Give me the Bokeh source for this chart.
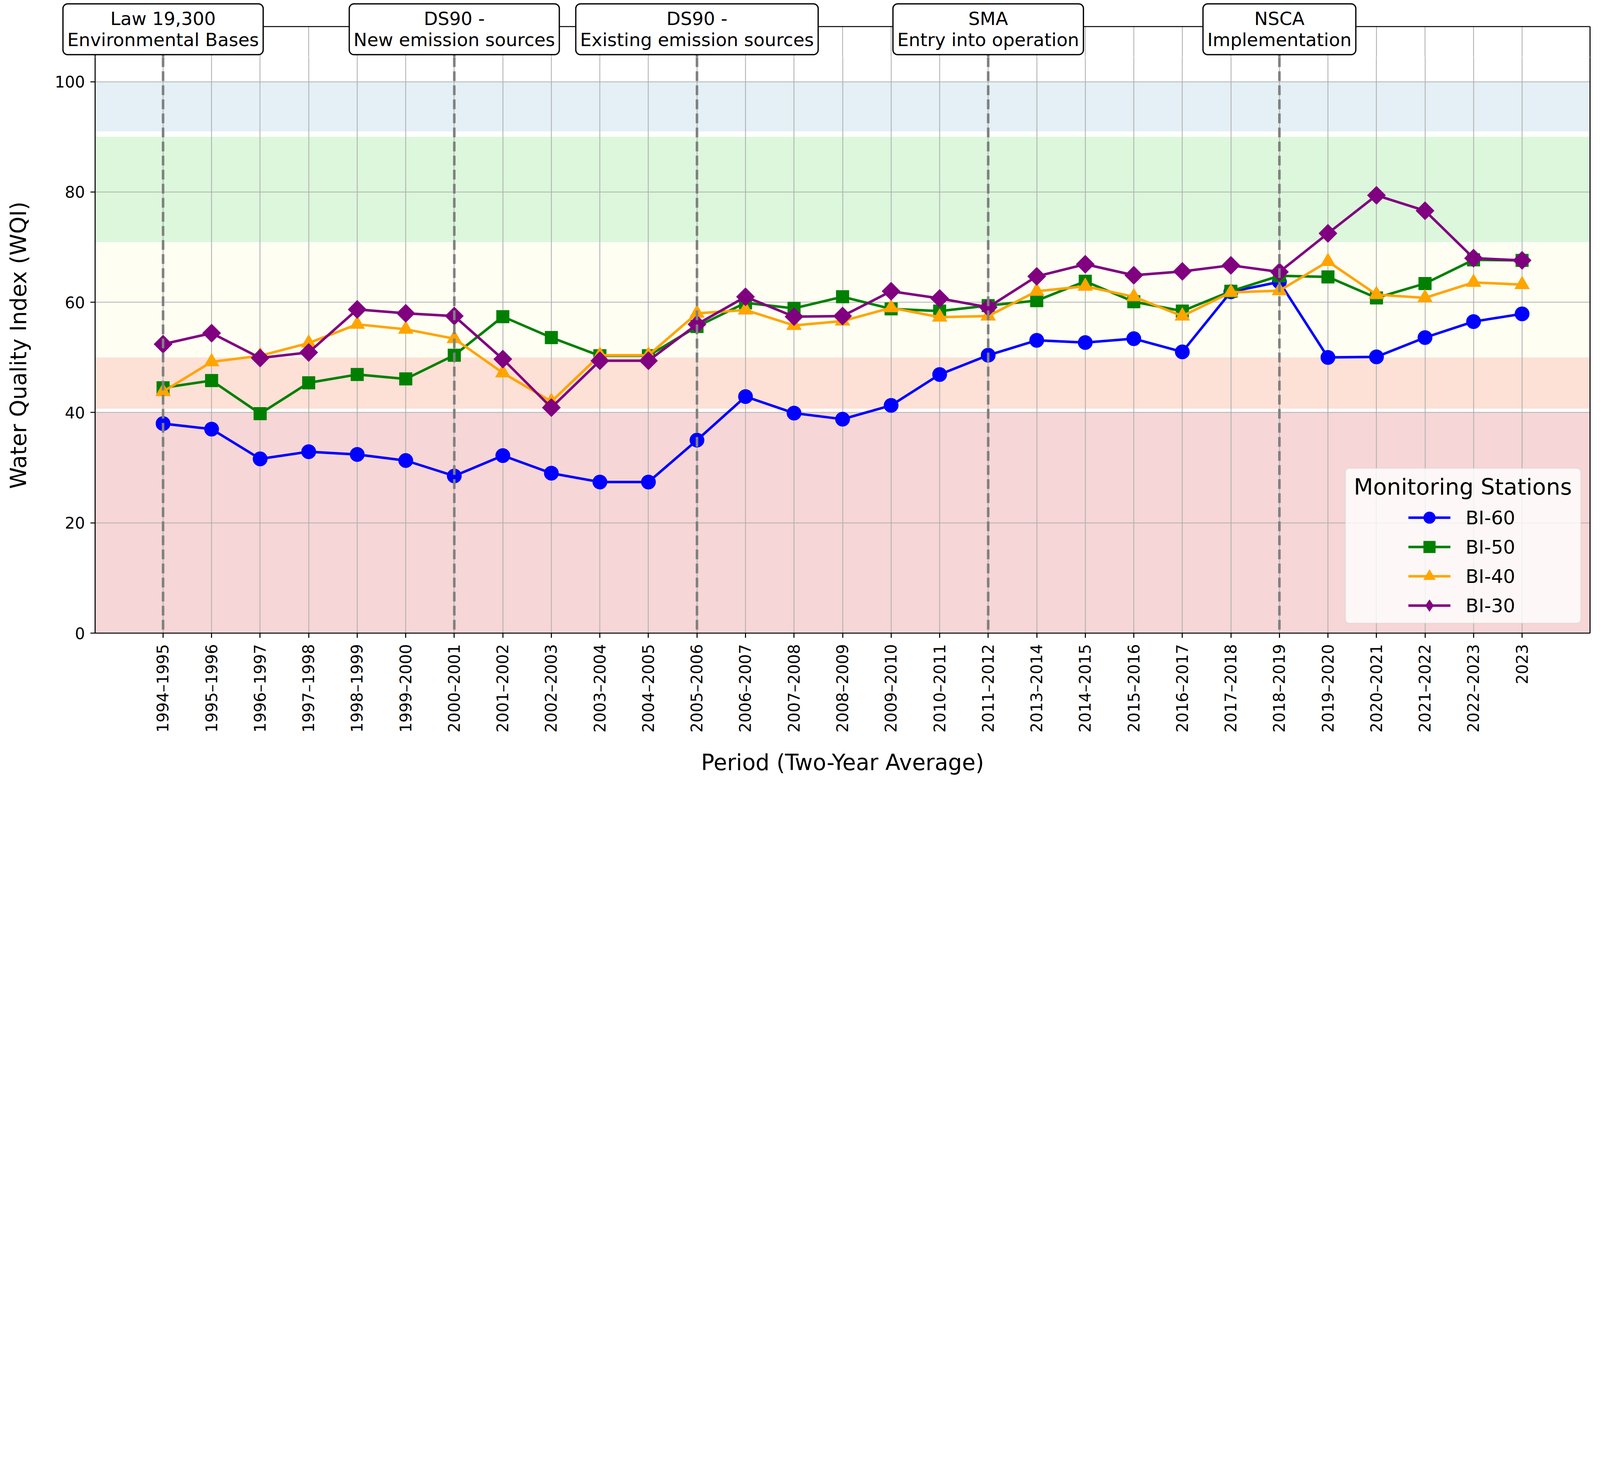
import math
from bokeh.plotting import figure
from bokeh.layouts import column
from bokeh.models import (Range1d, FixedTicker, BoxAnnotation, Span, Label,
                          Legend, LegendItem, LinearAxis)
from bokeh.embed import file_html
from bokeh.resources import INLINE

# ---------------- data ----------------
periods = ["1994–1995", "1995–1996", "1996–1997", "1997–1998", "1998–1999",
           "1999–2000", "2000–2001", "2001–2002", "2002–2003", "2003–2004",
           "2004–2005", "2005–2006", "2006–2007", "2007–2008", "2008–2009",
           "2009–2010", "2010–2011", "2011–2012", "2013–2014", "2014–2015",
           "2015–2016", "2016–2017", "2017–2018", "2018–2019", "2019–2020",
           "2020–2021", "2021–2022", "2022–2023", "2023"]

bi60 = [38.0, 37.0, 31.6, 32.9, 32.4, 31.3, 28.5, 32.2, 29.0, 27.4, 27.4, 35.0,
        42.9, 39.9, 38.8, 41.3, 46.9, 50.4, 53.1, 52.7, 53.4, 51.0, 61.9, 63.7,
        50.0, 50.1, 53.6, 56.5, 57.9]
bi50 = [44.5, 45.8, 39.8, 45.4, 46.9, 46.1, 50.4, 57.4, 53.6, 50.3, 50.3, 55.6,
        59.9, 58.9, 61.0, 58.8, 58.4, 59.4, 60.3, 63.8, 60.1, 58.4, 62.0, 64.8,
        64.6, 60.8, 63.4, 67.7, 67.6]
bi40 = [43.8, 49.2, 50.3, 52.6, 56.0, 55.1, 53.4, 47.2, 42.0, 50.4, 50.4, 58.0,
        58.6, 55.8, 56.6, 59.0, 57.3, 57.5, 62.0, 62.9, 61.0, 57.5, 61.8, 62.1,
        67.4, 61.4, 60.8, 63.6, 63.2]
bi30 = [52.4, 54.4, 49.9, 50.9, 58.7, 58.0, 57.5, 49.7, 40.9, 49.4, 49.4, 56.0,
        61.0, 57.4, 57.5, 62.0, 60.7, 59.1, 64.7, 66.9, 64.9, 65.6, 66.7, 65.5,
        72.5, 79.4, 76.6, 68.0, 67.6]

station_names = ["BI-60", "BI-50", "BI-40", "BI-30"]

# quality bands (bottom, top)
band_bottoms = [0, 40.7, 50, 70.9, 91]
band_tops = [40, 50, 70.6, 90, 100]

# regulatory milestones
event_index = [0, 6, 11, 17, 23]
event_text = ["Law 19,300\nEnvironmental Bases",
              "DS90 -\nNew emission sources",
              "DS90 -\nExisting emission sources",
              "SMA\nEntry into operation",
              "NSCA\nImplementation"]

# ---------------- layout / styling ----------------
S = 4096 / 7583            # page px per reference px
M = 0                      # page offset of the layout (Bokeh template has no body margin)


def px(v):
    return v * S


def ipx(v):
    return int(round(v * S))


FONT = "DejaVu Sans"
series_values = [bi60, bi50, bi40, bi30]
series_colors = ["#0000ff", "#008000", "#ffa500", "#800080"]
series_markers = ["circle", "square", "triangle", "square"]
legend_markers = ["circle", "square", "triangle", "diamond"]
series_sizes = [px(68), px(60), px(70), px(61)]
series_angles = [0, 0, 0, math.pi / 4]
band_colors = ["#f6d6d6", "#fde0d6", "#fefef3", "#dcf7dc", "#e4f0f6"]
DASH = f"{px(46):.0f} {px(20):.0f}"

X0, X1 = -1.4, 29.4
W = 4090
H_TOTAL = 2016
HT = 146                      # height of the strip that holds the milestone boxes
HM = H_TOTAL - HT
frame_left = px(450)
frame_right = px(7535)
frame_bottom = px(2999)
spine_top = px(125)
ppu_y = (frame_bottom - spine_top) / 110.0
main_top = M + HT
y_top_main = (frame_bottom - main_top) / ppu_y
ppu_x = (frame_right - frame_left) / (X1 - X0)

bl_main = int(round(frame_left - M))
br_main = int(round(M + W - frame_right))
bb_main = int(round(M + HT + HM - frame_bottom))

xs = list(range(len(periods)))

# ---------------- figures ----------------
p = figure(width=W, height=HM, output_backend="svg", toolbar_location=None,
           title=None, x_range=Range1d(X0, X1), y_range=Range1d(0, y_top_main),
           min_border_left=bl_main, min_border_right=br_main,
           min_border_top=0, min_border_bottom=bb_main)
t = figure(width=W, height=HT, output_backend="svg", toolbar_location=None,
           title=None, x_range=Range1d(X0, X1),
           y_range=Range1d(y_top_main, y_top_main + HT / ppu_y),
           x_axis_type=None, y_axis_type=None,
           min_border_left=bl_main, min_border_right=br_main,
           min_border_top=0, min_border_bottom=0)

free_frames = True
try:
    p.frame_align = False
    t.frame_align = False
except Exception:
    free_frames = False

if free_frames:
    bl_top, br_top = 4, 4
    t.min_border_left = bl_top
    t.min_border_right = br_top
    t.x_range.start = X0 - (bl_main - bl_top) / ppu_x
    t.x_range.end = X1 + (br_main - br_top) / ppu_x
    label_shift = [0.0, 0.0, 0.0, 0.0, 0.0]
else:
    label_shift = [0.75, 0.0, 0.0, 0.0, 0.0]

# ---------------- main figure ----------------
p.background_fill_color = "white"
p.border_fill_color = "white"
p.outline_line_color = None

for b, tp, c in zip(band_bottoms, band_tops, band_colors):
    p.add_layout(BoxAnnotation(bottom=b, top=tp, fill_color=c, fill_alpha=1.0,
                               line_alpha=0.0, level="image"))

p.xaxis.ticker = FixedTicker(ticks=xs)
p.xaxis.major_label_overrides = {i: s for i, s in enumerate(periods)}
p.xaxis.major_label_orientation = math.pi / 2
p.yaxis.ticker = FixedTicker(ticks=[0, 20, 40, 60, 80, 100])
for ax in (p.xaxis[0], p.yaxis[0]):
    ax.axis_line_color = "black"
    ax.axis_line_width = px(5)
    ax.major_tick_line_color = "black"
    ax.major_tick_line_width = px(5)
    ax.major_tick_in = 0
    ax.major_tick_out = ipx(22)
    ax.minor_tick_line_color = None
    ax.major_label_text_font = FONT
    ax.major_label_text_font_size = f"{px(75):.1f}px"
    ax.major_label_text_color = "black"
    ax.axis_label_text_font = FONT
    ax.axis_label_text_font_size = f"{px(104):.1f}px"
    ax.axis_label_text_font_style = "normal"
    ax.axis_label_text_color = "black"
p.xaxis.major_label_standoff = ipx(30)
p.yaxis.major_label_standoff = ipx(26)
p.xaxis.axis_label = "Period (Two-Year Average)"
p.yaxis.axis_label = "Water Quality Index (WQI)"
p.xaxis.axis_label_standoff = ipx(75)
p.yaxis.axis_label_standoff = ipx(105)

right_axis = LinearAxis(ticker=FixedTicker(ticks=[]), axis_line_color="black",
                        axis_line_width=px(5), major_tick_line_color=None,
                        minor_tick_line_color=None, major_label_text_font_size="0px")
p.add_layout(right_axis, "right")

p.grid.grid_line_color = "#b0b0b0"
p.grid.grid_line_width = px(4)

items = []
for name, vals, col, mk, lmk, sz, ang in zip(station_names, series_values,
                                             series_colors, series_markers,
                                             legend_markers, series_sizes,
                                             series_angles):
    lr = p.line(xs, vals, line_color=col, line_width=px(12))
    sr = p.scatter(xs, vals, marker=mk, size=sz, angle=ang,
                   fill_color=col, line_color=col, line_width=px(2))
    # legend sample marker (no data point of its own)
    proxy = p.scatter([float("nan")], [float("nan")], marker=lmk, size=sz,
                      fill_color=col, line_color=col, line_width=px(2))
    items.append(LegendItem(label=name, renderers=[lr, proxy]))

for idx in event_index:
    p.add_layout(Span(location=idx, dimension="height", line_color="#808080",
                      line_width=px(12), line_dash=DASH))

# legend frame + centered title + items
p.add_layout(BoxAnnotation(left=24.36, right=29.21, bottom=1.8, top=29.9,
                           fill_color="white", fill_alpha=0.8,
                           line_color="#cccccc", line_width=px(6),
                           border_radius=ipx(18)))
p.add_layout(Label(x=26.78, y=26.5, text="Monitoring Stations", text_align="center",
                   text_baseline="middle", text_font=FONT,
                   text_font_size=f"{px(106):.1f}px", text_color="black"))
legend = Legend(items=items, location=(ipx(6224), ipx(62)), orientation="vertical",
                glyph_width=ipx(200), glyph_height=ipx(139),
                label_height=ipx(139), label_standoff=ipx(72),
                spacing=0, padding=0, margin=0,
                background_fill_alpha=0.0, border_line_alpha=0.0,
                label_text_font=FONT, label_text_font_size=f"{px(90):.1f}px",
                label_text_baseline="middle", label_text_color="black")
p.add_layout(legend)

# ---------------- top strip with milestone boxes ----------------
t.background_fill_color = "white"
t.border_fill_color = "white"
t.outline_line_color = None

t.segment(x0=xs, y0=[y_top_main] * len(xs), x1=xs, y1=[110] * len(xs),
          line_color="#b0b0b0", line_width=px(4))
t.segment(x0=event_index, y0=[y_top_main] * len(event_index), x1=event_index,
          y1=[110] * len(event_index), line_color="#808080", line_width=px(12),
          line_dash=DASH)
t.segment(x0=[X0, X1, X0], y0=[y_top_main, y_top_main, 110],
          x1=[X0, X1, X1], y1=[110, 110, 110],
          line_color="black", line_width=px(5))

for idx, txt, sh in zip(event_index, event_text, label_shift):
    t.add_layout(Label(x=idx + sh, y=109.52, text=txt, text_align="center",
                       text_baseline="middle", text_font=FONT,
                       text_font_size=f"{px(86):.1f}px", text_color="black",
                       text_line_height=1.0,
                       background_fill_color="white", background_fill_alpha=1.0,
                       border_line_color="black", border_line_width=px(6),
                       padding=ipx(20), border_radius=ipx(22)))

layout = column(t, p, spacing=0)
open("out.html", "w").write(file_html(layout, INLINE))
